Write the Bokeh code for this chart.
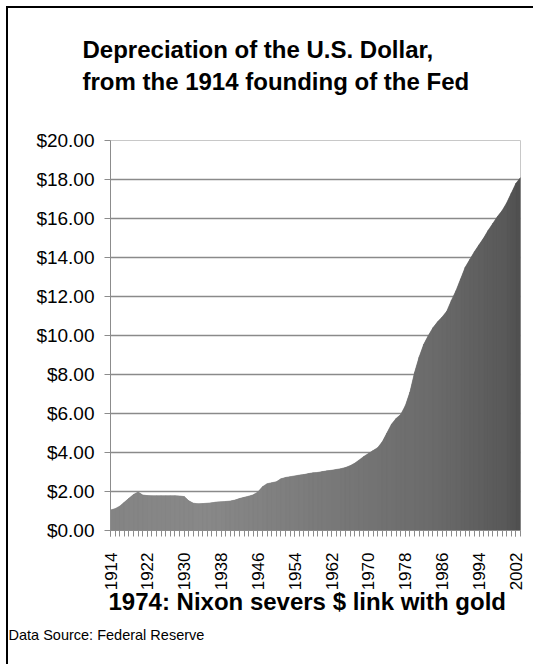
from math import pi
from bokeh.plotting import figure
from bokeh.models import Range1d, FixedTicker, NumeralTickFormatter, Title
from bokeh.embed import file_html
from bokeh.resources import INLINE

# ---------------- data ----------------
years = list(range(1914, 2004))
values = [
    1.05, 1.12, 1.25, 1.45, 1.65, 1.85, 1.97, 1.82, 1.79, 1.78,   # 1914-1923
    1.78, 1.78, 1.78, 1.78, 1.78, 1.77, 1.74, 1.52, 1.40, 1.37,   # 1924-1933
    1.38, 1.40, 1.42, 1.46, 1.47, 1.49, 1.51, 1.56, 1.64, 1.70,   # 1934-1943
    1.76, 1.83, 1.98, 2.25, 2.40, 2.45, 2.50, 2.65, 2.72, 2.76,   # 1944-1953
    2.80, 2.84, 2.87, 2.92, 2.96, 2.98, 3.02, 3.06, 3.09, 3.13,   # 1954-1963
    3.17, 3.23, 3.32, 3.45, 3.62, 3.80, 3.95, 4.10, 4.25, 4.55,   # 1964-1973
    5.00, 5.45, 5.75, 5.95, 6.40, 7.10, 8.10, 8.90, 9.55, 10.00,  # 1974-1983
    10.40, 10.70, 10.95, 11.25, 11.80, 12.30, 12.90, 13.50, 13.90, 14.30,  # 1984-1993
    14.65, 15.00, 15.40, 15.75, 16.10, 16.40, 16.80, 17.30, 17.80, 18.10,  # 1994-2003
]
y_ticks = [0, 2, 4, 6, 8, 10, 12, 14, 16, 18, 20]
x_label_years = list(range(1914, 2003, 8))

title_line1 = "Depreciation of the U.S. Dollar,"
title_line2 = "from the 1914 founding of the Fed"
x_title = "1974: Nixon severs $ link with gold"
source_note = "Data Source: Federal Reserve"

# gradient stops for the area fill (year, grey level)
grad_years = [1914, 1935, 1960, 1985, 2000, 2003]
grad_levels = [0x84, 0x88, 0x7a, 0x6a, 0x58, 0x4e]


def grey_at(x):
    for i in range(len(grad_years) - 1):
        a, b = grad_years[i], grad_years[i + 1]
        if a <= x <= b:
            t = (x - a) / (b - a)
            g = int(round(grad_levels[i] + t * (grad_levels[i + 1] - grad_levels[i])))
            return "#%02x%02x%02x" % (g, g, g)
    g = grad_levels[-1]
    return "#%02x%02x%02x" % (g, g, g)


# ---------------- figure ----------------
FONT = "Liberation Sans"
p = figure(
    width=533, height=664,
    x_range=Range1d(1914, 2003), y_range=Range1d(0, 20),
    output_backend="svg", toolbar_location=None, title=None,
    min_border_left=110, min_border_right=13,
    min_border_top=140, min_border_bottom=134,
)
# outer frame line (left and top edges, as in the original picture)
p.styles = {
    "position": "fixed", "top": "0px", "left": "0px",
    "background-color": "white",
    "box-shadow": "inset 6px 6px 0px 0px white, inset 8px 8px 0px 0px black",
}
p.background_fill_color = "white"
p.border_fill_color = None
p.outline_line_color = "#c8c8c8"
p.outline_line_width = 1

# area: base layer + gradient strips
p.varea(x=years, y1=[0] * len(years), y2=values, fill_color="#787878")
xs, ys, cols = [], [], []
for i in range(len(years) - 1):
    xs.append([years[i], years[i + 1], years[i + 1], years[i]])
    ys.append([0, 0, values[i + 1], values[i]])
    cols.append(grey_at((years[i] + years[i + 1]) / 2))
p.patches(xs=xs, ys=ys, fill_color=cols, line_color=cols, line_width=0.6)

# grid
p.xgrid.visible = False
p.ygrid.ticker = FixedTicker(ticks=y_ticks[1:-1])
p.ygrid.grid_line_color = "#8a8a8a"
p.ygrid.grid_line_width = 1.7

# y axis
p.yaxis.ticker = FixedTicker(ticks=y_ticks)
p.yaxis.formatter = NumeralTickFormatter(format="$0.00")
p.yaxis.axis_line_color = "#8c8c8c"
p.yaxis.major_tick_line_color = "#8c8c8c"
p.yaxis.major_tick_out = 6
p.yaxis.major_tick_in = 0
p.yaxis.minor_tick_line_color = None
p.yaxis.major_label_standoff = 10
p.yaxis.major_label_text_font = FONT
p.yaxis.major_label_text_font_size = "19px"
p.yaxis.major_label_text_color = "black"

# x axis
p.xaxis.ticker = FixedTicker(ticks=x_label_years, minor_ticks=years)
p.xaxis.axis_line_color = "#8c8c8c"
p.xaxis.major_tick_line_color = "#8c8c8c"
p.xaxis.minor_tick_line_color = "#8c8c8c"
p.xaxis.major_tick_out = 6
p.xaxis.major_tick_in = 0
p.xaxis.minor_tick_out = 6
p.xaxis.minor_tick_in = 0
p.xaxis.major_label_orientation = pi / 2
p.xaxis.major_label_standoff = 16
p.xaxis.major_label_text_font = FONT
p.xaxis.major_label_text_font_size = "17px"
p.xaxis.major_label_text_color = "black"


def make_title(text, size, style, offset, standoff, valign="bottom"):
    return Title(text=text, align="left", offset=offset, standoff=standoff,
                 vertical_align=valign, text_font=FONT, text_font_size=size,
                 text_font_style=style, text_color="black")


# above: first added is nearest the frame
p.add_layout(make_title(" ", "1px", "normal", 0, 42), "above")
p.add_layout(make_title(title_line2, "24px", "bold", -28, 2), "above")
p.add_layout(make_title(title_line1, "24px", "bold", -28, 3), "above")
# below: after the x axis
p.add_layout(make_title(x_title, "24px", "bold", -2, -16), "below")
p.add_layout(make_title(source_note, "14.5px", "normal", -102, 36), "below")

open("out.html", "w").write(file_html(p, INLINE))
